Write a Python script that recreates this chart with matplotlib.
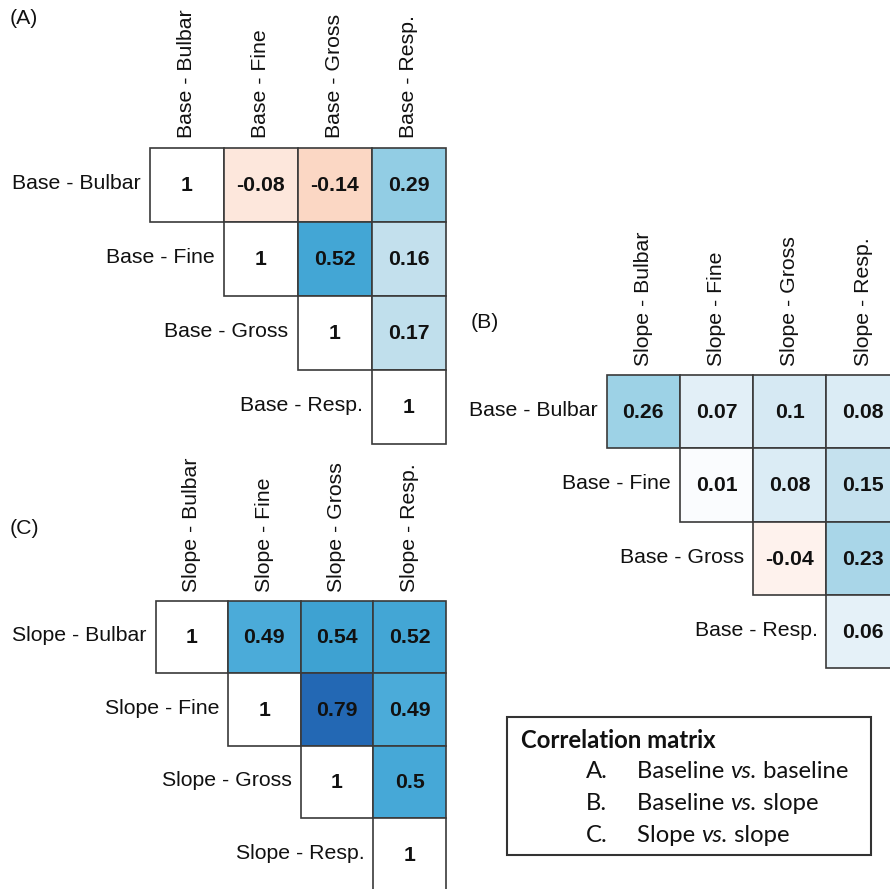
import matplotlib
matplotlib.use("Agg")
import matplotlib.pyplot as plt
from matplotlib.patches import Rectangle
from matplotlib.colors import LinearSegmentedColormap, Normalize

# ---------------- data ----------------
labels_A_rows = ["Base - Bulbar", "Base - Fine", "Base - Gross", "Base - Resp."]
labels_A_cols = ["Base - Bulbar", "Base - Fine", "Base - Gross", "Base - Resp."]
values_A = [[1, -0.08, -0.14, 0.29],
            [None, 1, 0.52, 0.16],
            [None, None, 1, 0.17],
            [None, None, None, 1]]

labels_B_rows = ["Base - Bulbar", "Base - Fine", "Base - Gross", "Base - Resp."]
labels_B_cols = ["Slope - Bulbar", "Slope - Fine", "Slope - Gross", "Slope - Resp."]
values_B = [[0.26, 0.07, 0.1, 0.08],
            [None, 0.01, 0.08, 0.15],
            [None, None, -0.04, 0.23],
            [None, None, None, 0.06]]

labels_C_rows = ["Slope - Bulbar", "Slope - Fine", "Slope - Gross", "Slope - Resp."]
labels_C_cols = ["Slope - Bulbar", "Slope - Fine", "Slope - Gross", "Slope - Resp."]
values_C = [[1, 0.49, 0.54, 0.52],
            [None, 1, 0.79, 0.49],
            [None, None, 1, 0.5],
            [None, None, None, 1]]

legend_title = "Correlation matrix"
legend_items = [("A.", "Baseline ", "vs.", " baseline"),
                ("B.", "Baseline ", "vs.", " slope"),
                ("C.", "Slope ", "vs.", " slope")]

# ---------------- style ----------------
W, H = 890, 889
fig = plt.figure(figsize=(W / 100, H / 100), dpi=100)
ax = fig.add_axes([0, 0, 1, 1])
ax.set_xlim(0, W)
ax.set_ylim(H, 0)
ax.axis("off")

norm = Normalize(-1, 1)
def pos(v):
    return (v + 1) / 2
cmap = LinearSegmentedColormap.from_list("corr", [
    (0.0, "#b2182b"),
    (pos(-0.15), "#fbd3bf"),
    (pos(0.0), "#ffffff"),
    (pos(0.08), "#dcecf5"),
    (pos(0.17), "#c0dfec"),
    (pos(0.28), "#97cfe5"),
    (pos(0.5), "#47a9d8"),
    (pos(0.54), "#3fa3d3"),
    (pos(0.79), "#2369b5"),
    (1.0, "#1a4f9a"),
])

FONT = ["Liberation Sans", "DejaVu Sans"]
FS = 15.3
EDGE = "#3a3a3a"
TXT = "#111111"

def draw_panel(x0, y0, cell, values, row_labels, col_labels, diag_white):
    n = len(values)
    for i in range(n):
        for j in range(n):
            v = values[i][j]
            if v is None:
                continue
            x = x0 + j * cell
            y = y0 + i * cell
            if diag_white and i == j:
                fc = "white"
            else:
                fc = cmap(norm(v))
            ax.add_patch(Rectangle((x, y), cell, cell, facecolor=fc,
                                   edgecolor=EDGE, lw=1.2, zorder=2))
            ax.text(x + cell / 2, y + cell / 2 + 1, f"{v:g}", ha="center", va="center",
                    fontsize=FS, fontweight="bold", family=FONT, color=TXT, zorder=3)
        ax.text(x0 + i * cell - 9, y0 + i * cell + cell / 2 - 1, row_labels[i],
                ha="right", va="center", fontsize=FS, family=FONT, color=TXT)
    for j in range(n):
        ax.text(x0 + j * cell + cell / 2, y0 - 9, col_labels[j], rotation=90,
                ha="center", va="bottom", fontsize=FS, family=FONT, color=TXT)

draw_panel(149.5, 147.5, 74.0, values_A, labels_A_rows, labels_A_cols, True)
draw_panel(606.5, 375.0, 73.3, values_B, labels_B_rows, labels_B_cols, False)
draw_panel(155.5, 600.5, 72.6, values_C, labels_C_rows, labels_C_cols, True)

ax.text(10, 18, "(A)", ha="left", va="center", fontsize=FS, family=FONT, color=TXT)
ax.text(471, 323, "(B)", ha="left", va="center", fontsize=FS, family=FONT, color=TXT)
ax.text(10, 528, "(C)", ha="left", va="center", fontsize=FS, family=FONT, color=TXT)

# ---------------- legend box ----------------
ax.add_patch(Rectangle((506.7, 716.7), 364.3, 138.3, facecolor="white",
                       edgecolor="#333333", lw=1.5, zorder=2))
LFONT = ["Lato", "DejaVu Sans"]
LFS = 17.2
ax.text(521, 740, legend_title, ha="left", va="center", fontsize=LFS,
        fontweight="bold", family=LFONT, color=TXT, zorder=3)

fig.canvas.draw()
renderer = fig.canvas.get_renderer()
inv = ax.transData.inverted()
line_y = [772, 803, 835]
for (letter, a, b, c), y in zip(legend_items, line_y):
    ax.text(586, y, letter, ha="left", va="center", fontsize=LFS, family=LFONT,
            color=TXT, zorder=3)
    x = 637
    for part, style in ((a, "normal"), (b, "italic"), (c, "normal")):
        t = ax.text(x, y, part, ha="left", va="center", fontsize=LFS, family=LFONT,
                    style=style, color=TXT, zorder=3)
        bb = t.get_window_extent(renderer)
        x = inv.transform((bb.x1, bb.y0))[0]

fig.savefig("out.png", dpi=100)
